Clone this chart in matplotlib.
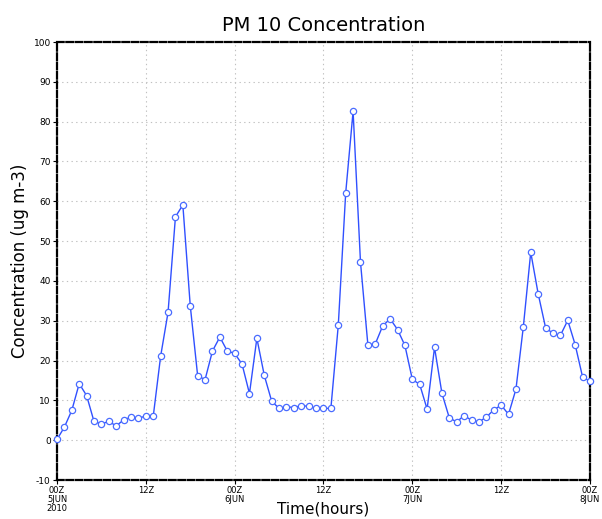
import numpy as np
from matplotlib import pyplot as plt

# hourly PM10 values, 00Z 5JUN 2010 .. 00Z 8JUN 2010
hours = list(range(73))
pm10 = [0.2, 3.3, 7.5, 14.2, 11.2, 4.7, 4.1, 4.7, 3.6, 5.1, 5.8, 5.6,
        6.0, 6.0, 21.1, 32.1, 56.1, 59.1, 33.8, 16.2, 15.2, 22.4, 25.9, 22.4,
        21.8, 19.1, 11.7, 25.6, 16.3, 9.8, 8.0, 8.4, 8.2, 8.7, 8.5, 8.0,
        8.0, 8.0, 28.9, 62.1, 82.6, 44.7, 23.9, 24.2, 28.7, 30.5, 27.8, 23.8,
        15.3, 14.0, 7.8, 23.3, 11.8, 5.6, 4.6, 6.2, 5.0, 4.6, 5.8, 7.6,
        8.8, 6.5, 12.8, 28.5, 47.2, 36.8, 28.3, 26.8, 26.3, 30.1, 24.0, 15.9,
        14.8]

xtick_pos = [0, 12, 24, 36, 48, 60, 72]
xtick_labels = ['00Z\n5JUN\n2010', '12Z', '00Z\n6JUN', '12Z',
                '00Z\n7JUN', '12Z', '00Z\n8JUN']
ytick_pos = list(range(-10, 101, 10))

fig = plt.figure(figsize=(6.02, 5.19), dpi=100)
ax = fig.add_axes([0.0947, 0.0751, 0.8853, 0.8439])

ax.plot(hours, pm10, color='#3050ff', lw=1.0, marker='o', markersize=4.5,
        markerfacecolor='white', markeredgecolor='#4a6cff', markeredgewidth=0.9,
        clip_on=False, zorder=3)

ax.set_xlim(0, 72)
ax.set_ylim(-10, 100)
ax.set_xticks(xtick_pos)
ax.set_xticklabels(xtick_labels, fontsize=6, linespacing=0.95)
ax.set_yticks(ytick_pos)
ax.set_yticklabels([str(v) for v in ytick_pos], fontsize=6.5)
ax.tick_params(axis='both', direction='out', length=3, width=0.8, pad=1.5)

ax.grid(True, color='#c0c0c0', linestyle=(0, (1.2, 3)), linewidth=0.8)

for s in ax.spines.values():
    s.set_color('black')
    s.set_linewidth(1.6)
    s.set_linestyle((0, (3, 1.2)))

ax.set_title('PM 10 Concentration', fontsize=14, pad=8)
ax.set_xlabel('Time(hours)', fontsize=11, labelpad=-8)
ax.set_ylabel('Concentration (ug m-3)', fontsize=12, labelpad=3)

plt.savefig('out.png', dpi=100)
